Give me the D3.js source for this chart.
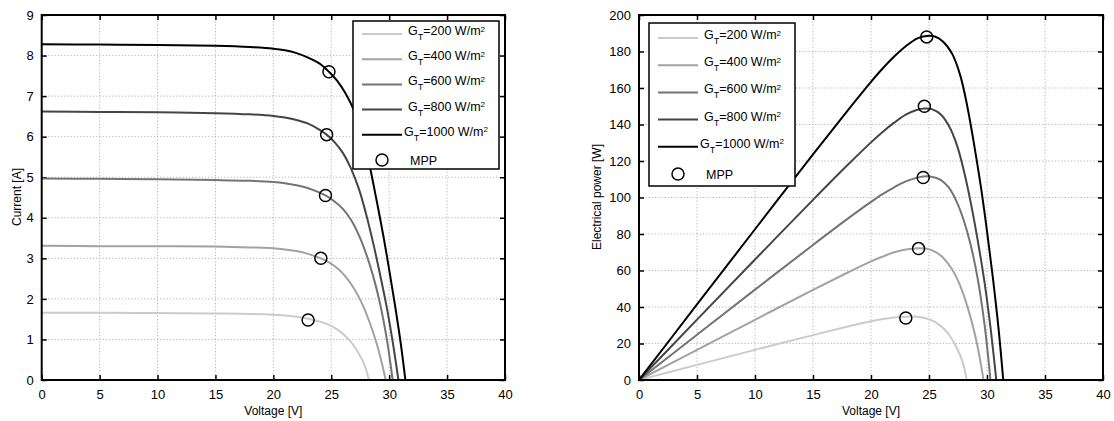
<!DOCTYPE html>
<html>
<head>
<meta charset="utf-8">
<script src="https://cdn.jsdelivr.net/npm/d3@7"></script>
<style>
  body { margin: 0; background: #fff; }
  svg text { font-family: "Liberation Sans", Arial, Helvetica, sans-serif; fill: #000; }
</style>
</head>
<body>
<svg id="chart" width="1114" height="421"></svg>
<script>
// irradiance levels (W/m2) and line greys
const irradiance = [200, 400, 600, 800, 1000];
const greys = ["#cbcbcb", "#a2a2a2", "#747474", "#454545", "#000000"];

// voltage [V], current [A], power [W]
const volt200 = [0, 5, 10, 15, 18, 20, 21, 22, 23, 24, 24.8, 25.5, 26.2, 26.8, 27.4, 27.9, 28.25];
const curr200 = [1.66, 1.66, 1.65, 1.64, 1.63, 1.61, 1.59, 1.56, 1.51, 1.44, 1.36, 1.25, 1.09, 0.90, 0.64, 0.35, 0];
const pow200 = [0, 8.3, 16.5, 24.6, 29.3, 32.2, 33.4, 34.3, 34.7, 34.6, 33.7, 31.9, 28.6, 24.1, 17.5, 9.8, 0];

const volt400 = [0, 5, 10, 15, 18, 20, 21, 22, 23, 24, 24.8, 25.5, 26.2, 27, 27.7, 28.3, 28.9, 29.3, 29.7];
const curr400 = [3.31, 3.30, 3.30, 3.29, 3.27, 3.25, 3.22, 3.18, 3.11, 3.01, 2.90, 2.76, 2.56, 2.24, 1.86, 1.43, 0.92, 0.50, 0];
const pow400 = [0, 16.5, 33.0, 49.4, 58.9, 65.0, 67.6, 70.0, 71.5, 72.2, 71.9, 70.4, 67.1, 60.5, 51.5, 40.5, 26.6, 14.7, 0];

const volt600 = [0, 5, 10, 15, 18, 20, 21, 22, 23, 24, 24.5, 25.2, 26, 26.7, 27.4, 28, 28.6, 29.2, 29.8, 30.3];
const curr600 = [4.97, 4.96, 4.95, 4.93, 4.91, 4.88, 4.85, 4.80, 4.73, 4.62, 4.55, 4.42, 4.22, 3.95, 3.56, 3.12, 2.58, 1.90, 1.00, 0];
const pow600 = [0, 24.8, 49.5, 74.0, 88.4, 97.6, 101.9, 105.6, 108.8, 110.9, 111.5, 111.4, 109.7, 105.5, 97.5, 87.4, 73.8, 55.5, 29.8, 0];

const volt800 = [0, 5, 10, 15, 18, 20, 21, 22, 23, 24, 24.6, 25.3, 26, 26.7, 27.4, 28, 28.6, 29.2, 29.8, 30.3, 30.8];
const curr800 = [6.62, 6.61, 6.60, 6.58, 6.55, 6.51, 6.47, 6.41, 6.32, 6.17, 6.05, 5.86, 5.60, 5.22, 4.70, 4.10, 3.40, 2.62, 1.78, 0.95, 0];
const pow800 = [0, 33.1, 66.0, 98.7, 117.9, 130.2, 135.9, 141.0, 145.4, 148.1, 148.8, 148.3, 145.6, 139.4, 128.8, 114.8, 97.2, 76.5, 53.0, 28.8, 0];

const volt1000 = [0, 5, 10, 15, 18, 20, 21, 22, 23, 24, 24.8, 25.5, 26.2, 27, 27.7, 28.3, 28.9, 29.5, 30, 30.5, 31, 31.4];
const curr1000 = [8.28, 8.27, 8.26, 8.24, 8.21, 8.17, 8.13, 8.06, 7.95, 7.80, 7.60, 7.38, 7.08, 6.62, 6.02, 5.30, 4.45, 3.55, 2.72, 1.85, 0.90, 0];
const pow1000 = [0, 41.4, 82.6, 123.6, 147.8, 163.4, 170.7, 177.3, 182.9, 187.2, 188.5, 188.2, 185.5, 178.7, 166.8, 150.0, 128.6, 104.7, 81.6, 56.4, 27.9, 0];

// maximum power points
const mppVolt = [23.0, 24.1, 24.5, 24.6, 24.8];
const mppCurr = [1.48, 3.0, 4.55, 6.05, 7.6];
const mppPow = [34, 72, 111, 150, 188];

const voltTicks = [0, 5, 10, 15, 20, 25, 30, 35, 40];
const currTicks = [0, 1, 2, 3, 4, 5, 6, 7, 8, 9];
const powTicks = [0, 20, 40, 60, 80, 100, 120, 140, 160, 180, 200];

const volts = [volt200, volt400, volt600, volt800, volt1000];
const currents = [curr200, curr400, curr600, curr800, curr1000];
const powers = [pow200, pow400, pow600, pow800, pow1000];

const svg = d3.select("#chart");

function panel(opt) {
  const x = d3.scaleLinear().domain([0, 40]).range([opt.left, opt.right]);
  const y = d3.scaleLinear().domain(opt.yDomain).range([380, 15]);
  const g = svg.append("g");
  const w = opt.right - opt.left, h = 365;

  g.append("clipPath").attr("id", opt.id + "clip")
    .append("rect").attr("x", opt.left).attr("y", 15).attr("width", w).attr("height", h);

  // dotted grid
  g.append("g").selectAll("line").data(voltTicks.slice(1, -1)).join("line")
    .attr("x1", d => x(d)).attr("x2", d => x(d)).attr("y1", 15).attr("y2", 380)
    .attr("stroke", "#b4b4b4").attr("stroke-width", 1).attr("stroke-dasharray", "1.2,2");
  g.append("g").selectAll("line").data(opt.yTicks.slice(1, -1)).join("line")
    .attr("y1", d => y(d)).attr("y2", d => y(d)).attr("x1", opt.left).attr("x2", opt.right)
    .attr("stroke", "#b4b4b4").attr("stroke-width", 1).attr("stroke-dasharray", "1.2,2");

  // axes (ticks inward on all four sides)
  g.append("g").attr("transform", "translate(0,380)")
    .call(d3.axisBottom(x).tickValues(voltTicks).tickSizeInner(-5).tickSizeOuter(0).tickPadding(10));
  g.append("g").attr("transform", "translate(0,15)")
    .call(d3.axisTop(x).tickValues(voltTicks).tickSizeInner(-5).tickSizeOuter(0).tickFormat(""));
  g.append("g").attr("transform", `translate(${opt.left},0)`)
    .call(d3.axisLeft(y).tickValues(opt.yTicks).tickSizeInner(-5).tickSizeOuter(0).tickPadding(8));
  g.append("g").attr("transform", `translate(${opt.right},0)`)
    .call(d3.axisRight(y).tickValues(opt.yTicks).tickSizeInner(-5).tickSizeOuter(0).tickFormat(""));
  g.selectAll(".domain").remove();
  g.selectAll(".tick line").attr("stroke", "#000").attr("stroke-width", 1.5);
  g.selectAll(".tick text").attr("font-size", 13).attr("fill", "#000")
    .attr("font-family", '"Liberation Sans", Arial, sans-serif');

  // curves
  const line = d3.line().x(d => x(d[0])).y(d => y(d[1])).curve(d3.curveCatmullRom.alpha(0.5));
  const series = volts.map((v, i) => v.map((vv, j) => [vv, opt.values[i][j]]));
  g.append("g").attr("clip-path", `url(#${opt.id}clip)`)
    .selectAll("path").data(series).join("path")
    .attr("d", line).attr("fill", "none")
    .attr("stroke", (d, i) => greys[i]).attr("stroke-width", 2);

  // MPP circles
  g.append("g").selectAll("circle").data(mppVolt).join("circle")
    .attr("cx", d => x(d)).attr("cy", (d, i) => y(opt.mpp[i])).attr("r", 6)
    .attr("fill", "none").attr("stroke", "#000").attr("stroke-width", 1.5);

  // frame
  g.append("rect").attr("x", opt.left).attr("y", 15).attr("width", w).attr("height", h)
    .attr("fill", "none").attr("stroke", "#000").attr("stroke-width", 2);

  // axis titles
  g.append("text").attr("x", (opt.left + opt.right) / 2).attr("y", 415)
    .attr("text-anchor", "middle").attr("font-size", 12).text("Voltage [V]");
  g.append("text").attr("transform", `translate(${opt.titleX},${197}) rotate(-90)`)
    .attr("text-anchor", "middle").attr("font-size", 12).text(opt.yTitle);

  // legend
  const L = opt.legend;
  const lg = g.append("g");
  lg.append("rect").attr("x", L.x).attr("y", L.y).attr("width", L.w).attr("height", L.h)
    .attr("fill", "#fff").attr("stroke", "#000").attr("stroke-width", 1.5);
  irradiance.forEach((gt, i) => {
    const yy = L.y + L.first + i * L.step;
    lg.append("line").attr("x1", L.x + 9).attr("x2", L.x + 49).attr("y1", yy).attr("y2", yy)
      .attr("stroke", greys[i]).attr("stroke-width", 2);
    const t = lg.append("text").attr("x", gt === 1000 ? L.x + 51 : L.x + 55).attr("y", yy + 1)
      .attr("font-size", 12.5);
    t.append("tspan").text("G");
    t.append("tspan").attr("dy", 5).attr("font-size", 9).text("T");
    t.append("tspan").attr("dy", -5).text(`=${gt} W/m`);
    t.append("tspan").attr("dy", -3.5).attr("font-size", 8).text("2");
  });
  const yc = L.y + L.first + 5 * L.step;
  lg.append("circle").attr("cx", L.x + 29).attr("cy", yc).attr("r", 6)
    .attr("fill", "none").attr("stroke", "#000").attr("stroke-width", 1.5);
  lg.append("text").attr("x", L.x + 57).attr("y", yc + 5).attr("font-size", 12.5).text("MPP");
}

panel({
  id: "iv", left: 41.7, right: 505, yDomain: [0, 9], yTicks: currTicks,
  values: currents, mpp: mppCurr, yTitle: "Current [A]", titleX: 21,
  legend: { x: 353, y: 21, w: 146, h: 148, first: 13, step: 25.2 }
});
panel({
  id: "pv", left: 639, right: 1103, yDomain: [0, 200], yTicks: powTicks,
  values: powers, mpp: mppPow, yTitle: "Electrical power [W]", titleX: 601,
  legend: { x: 649, y: 23, w: 146, h: 163, first: 15, step: 27.2 }
});
</script>
</body>
</html>
